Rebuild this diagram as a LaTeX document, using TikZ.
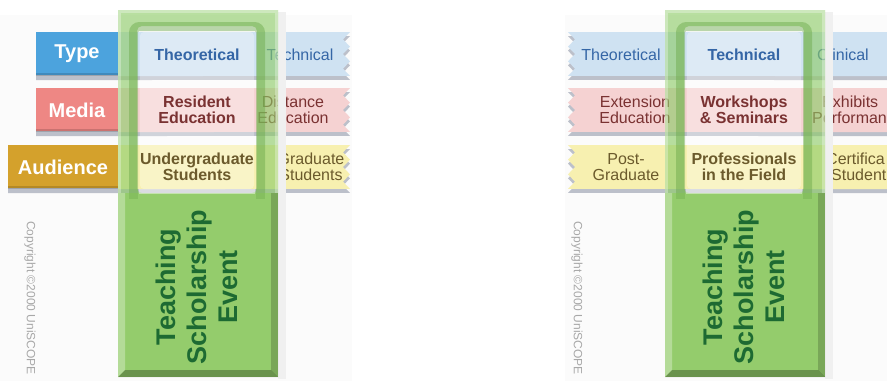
\documentclass[tikz,border=0pt]{standalone}
\usepackage{fontspec}
\setmainfont{Liberation Sans}
\definecolor{typeC}{HTML}{4CA3DD}
\definecolor{mediaC}{HTML}{EE8784}
\definecolor{audC}{HTML}{D4A12C}
\definecolor{bluS}{HTML}{CFE2F2}
\definecolor{pinkS}{HTML}{F5D2D2}
\definecolor{yelS}{HTML}{F7F0B0}
\definecolor{shad}{HTML}{BCC0CA}
\definecolor{bluT}{HTML}{3566A6}
\definecolor{pinkT}{HTML}{7A3232}
\definecolor{yelT}{HTML}{6B5A2C}
\definecolor{frameG}{HTML}{8CCB66}
\definecolor{frameD}{HTML}{6AA848}
\definecolor{blockG}{HTML}{94CC6C}
\definecolor{evG}{HTML}{1D6A32}
\definecolor{copyG}{HTML}{A8A8A8}
\definecolor{panelBg}{HTML}{FBFBFB}
\newcommand\zzr[2]{(#1,#2) -- (350,#2) -- ++(-7,7.33) -- ++(7,7.33) -- ++(-7,7.33) -- ++(7,7.33) -- ++(-7,7.33) -- ++(7,7.34) -- (#1,#2+44) -- cycle}
\newcommand\zzl[1]{(895,#1) -- (568,#1) -- ++(7,7.33) -- ++(-7,7.33) -- ++(7,7.33) -- ++(-7,7.33) -- ++(7,7.33) -- ++(-7,7.34) -- (895,#1+44) -- cycle}
\newcommand\tsframe[1]{%
  % shadow right of frame
  \fill[black!6] (278,12) rectangle (286,379);
  % band around window
  \fill[frameG, opacity=.62, even odd rule] (118,10) rectangle (278,193) [rounded corners=5] (137,26) rectangle (257,193);
  \draw[white, opacity=.3, line width=3] (119.5,193) -- (119.5,11.5) -- (276.5,11.5) -- (276.5,193);
  \draw[frameD, opacity=.45, line width=9, rounded corners=6] (133.5,193) -- (133.5,26.5) -- (260.5,26.5) -- (260.5,193);
  % block
  \fill[blockG] (118,193) rectangle (278,377);
  \fill[white, opacity=.3] (118,193) -- (125,193) -- (125,370) -- (118,377) -- cycle;
  \fill[black, opacity=.18] (278,193) -- (278,377) -- (271,370) -- (271,193) -- cycle;
  \fill[black, opacity=.28] (118,377) -- (278,377) -- (271,370) -- (125,370) -- cycle;
  \fill[frameD, opacity=.35] (129,193) rectangle (138,199);
  \fill[frameD, opacity=.35] (256,193) rectangle (265,199);
  \fill[white, opacity=.45] (139,189) rectangle (255,194);
  \node[tse] (#1ev) at (197,287) {Teaching\\Scholarship\\Event};
  \node[copyr] (#1cp) at (30,298) {Copyright ©2000 UniSCOPE};
}
\begin{document}
\begin{tikzpicture}[x=1pt,y=-1pt,
  lab/.style={font=\fontsize{20}{20}\selectfont\bfseries, text=white, inner sep=0},
  ctr/.style={font=\fontsize{16}{16}\selectfont\bfseries, align=center, inner sep=0},
  side/.style={font=\fontsize{16}{16}\selectfont, align=center, inner sep=0},
  sidel/.style={font=\fontsize{16}{16}\selectfont, anchor=west, inner sep=0},
  copyr/.style={font=\fontsize{12}{12}\selectfont, text=copyG, rotate=-90, inner sep=0},
  tse/.style={font=\fontsize{27}{31}\selectfont\bfseries, text=evG, rotate=90, align=center, inner sep=0},
  lighten/.style={fill=white, opacity=.3, rounded corners=4}]
\useasboundingbox (0,0) rectangle (887,381);
\clip (0,0) rectangle (887,381);
% faint panel backgrounds
\fill[panelBg] (0,15) rectangle (352,381);
\fill[panelBg] (565,15) rectangle (887,381);

% ===================== LEFT PANEL =====================
% shadows
\fill[shad] \zzr{36}{36};
\fill[shad] \zzr{36}{92};
\fill[shad] \zzr{8}{149};
% strips
\fill[bluS] \zzr{118}{32};
\fill[pinkS] \zzr{118}{88};
\fill[yelS] \zzr{118}{145};
% labels
\fill[typeC] (36,32) rectangle (118,75);
\fill[mediaC] (36,88) rectangle (118,131);
\fill[audC] (8,145) rectangle (118,188);
\fill[black,opacity=.15] (36,73) rectangle (118,76);
\fill[black,opacity=.15] (36,129) rectangle (118,132);
\fill[black,opacity=.15] (8,186) rectangle (118,189);
\node[lab] (ltype) at (77,54) {Type};
\node[lab] (lmedia) at (77,110) {Media};
\node[lab] (laud) at (63,167) {Audience};
% window lighten
\fill[lighten] (140,32) rectangle (254,189);
% cell texts
\node[ctr, text=bluT] (lc1) at (197,55) {Theoretical};
\node[ctr, text=pinkT] (lc2) at (197,110) {Resident\\Education};
\node[ctr, text=yelT] (lc3) at (197,167) {Undergraduate\\Students};
\node[side, text=bluT] (lr1) at (300,55) {Technical};
\node[side, text=pinkT] (lr2) at (293,110) {Distance\\Education};
\begin{scope}
  \clip \zzr{118}{145};
  \node[side, text=yelT] (lr3) at (311,167) {Graduate\\Students};
\end{scope}
\tsframe{l}

% ===================== RIGHT PANEL =====================
\fill[shad] \zzl{36};
\fill[shad] \zzl{92};
\fill[shad] \zzl{149};
\fill[bluS] \zzl{32};
\fill[pinkS] \zzl{88};
\fill[yelS] \zzl{145};
\fill[lighten] (687,32) rectangle (801,189);
\node[side, text=bluT] (rl1) at (621,55) {Theoretical};
\node[side, text=pinkT] (rl2) at (635,110) {Extension\\Education};
\node[side, text=yelT] (rl3) at (626,167) {Post-\\Graduate};
\node[ctr, text=bluT] (rc1) at (744,55) {Technical};
\node[ctr, text=pinkT] (rc2) at (744,110) {Workshops\\\& Seminars};
\node[ctr, text=yelT] (rc3) at (744,167) {Professionals\\in the Field};
\node[sidel, text=bluT] (rr1) at (817,55) {Clinical};
\node[sidel, text=pinkT] (rr2a) at (822,102) {Exhibits};
\node[sidel, text=pinkT] (rr2b) at (812,118) {Performan};
\node[sidel, text=yelT] (rr3a) at (826,159) {Certifica};
\node[sidel, text=yelT] (rr3b) at (831,175) {Student};
\begin{scope}[xshift=547pt]
\tsframe{r}
\end{scope}
\end{tikzpicture}
\end{document}
